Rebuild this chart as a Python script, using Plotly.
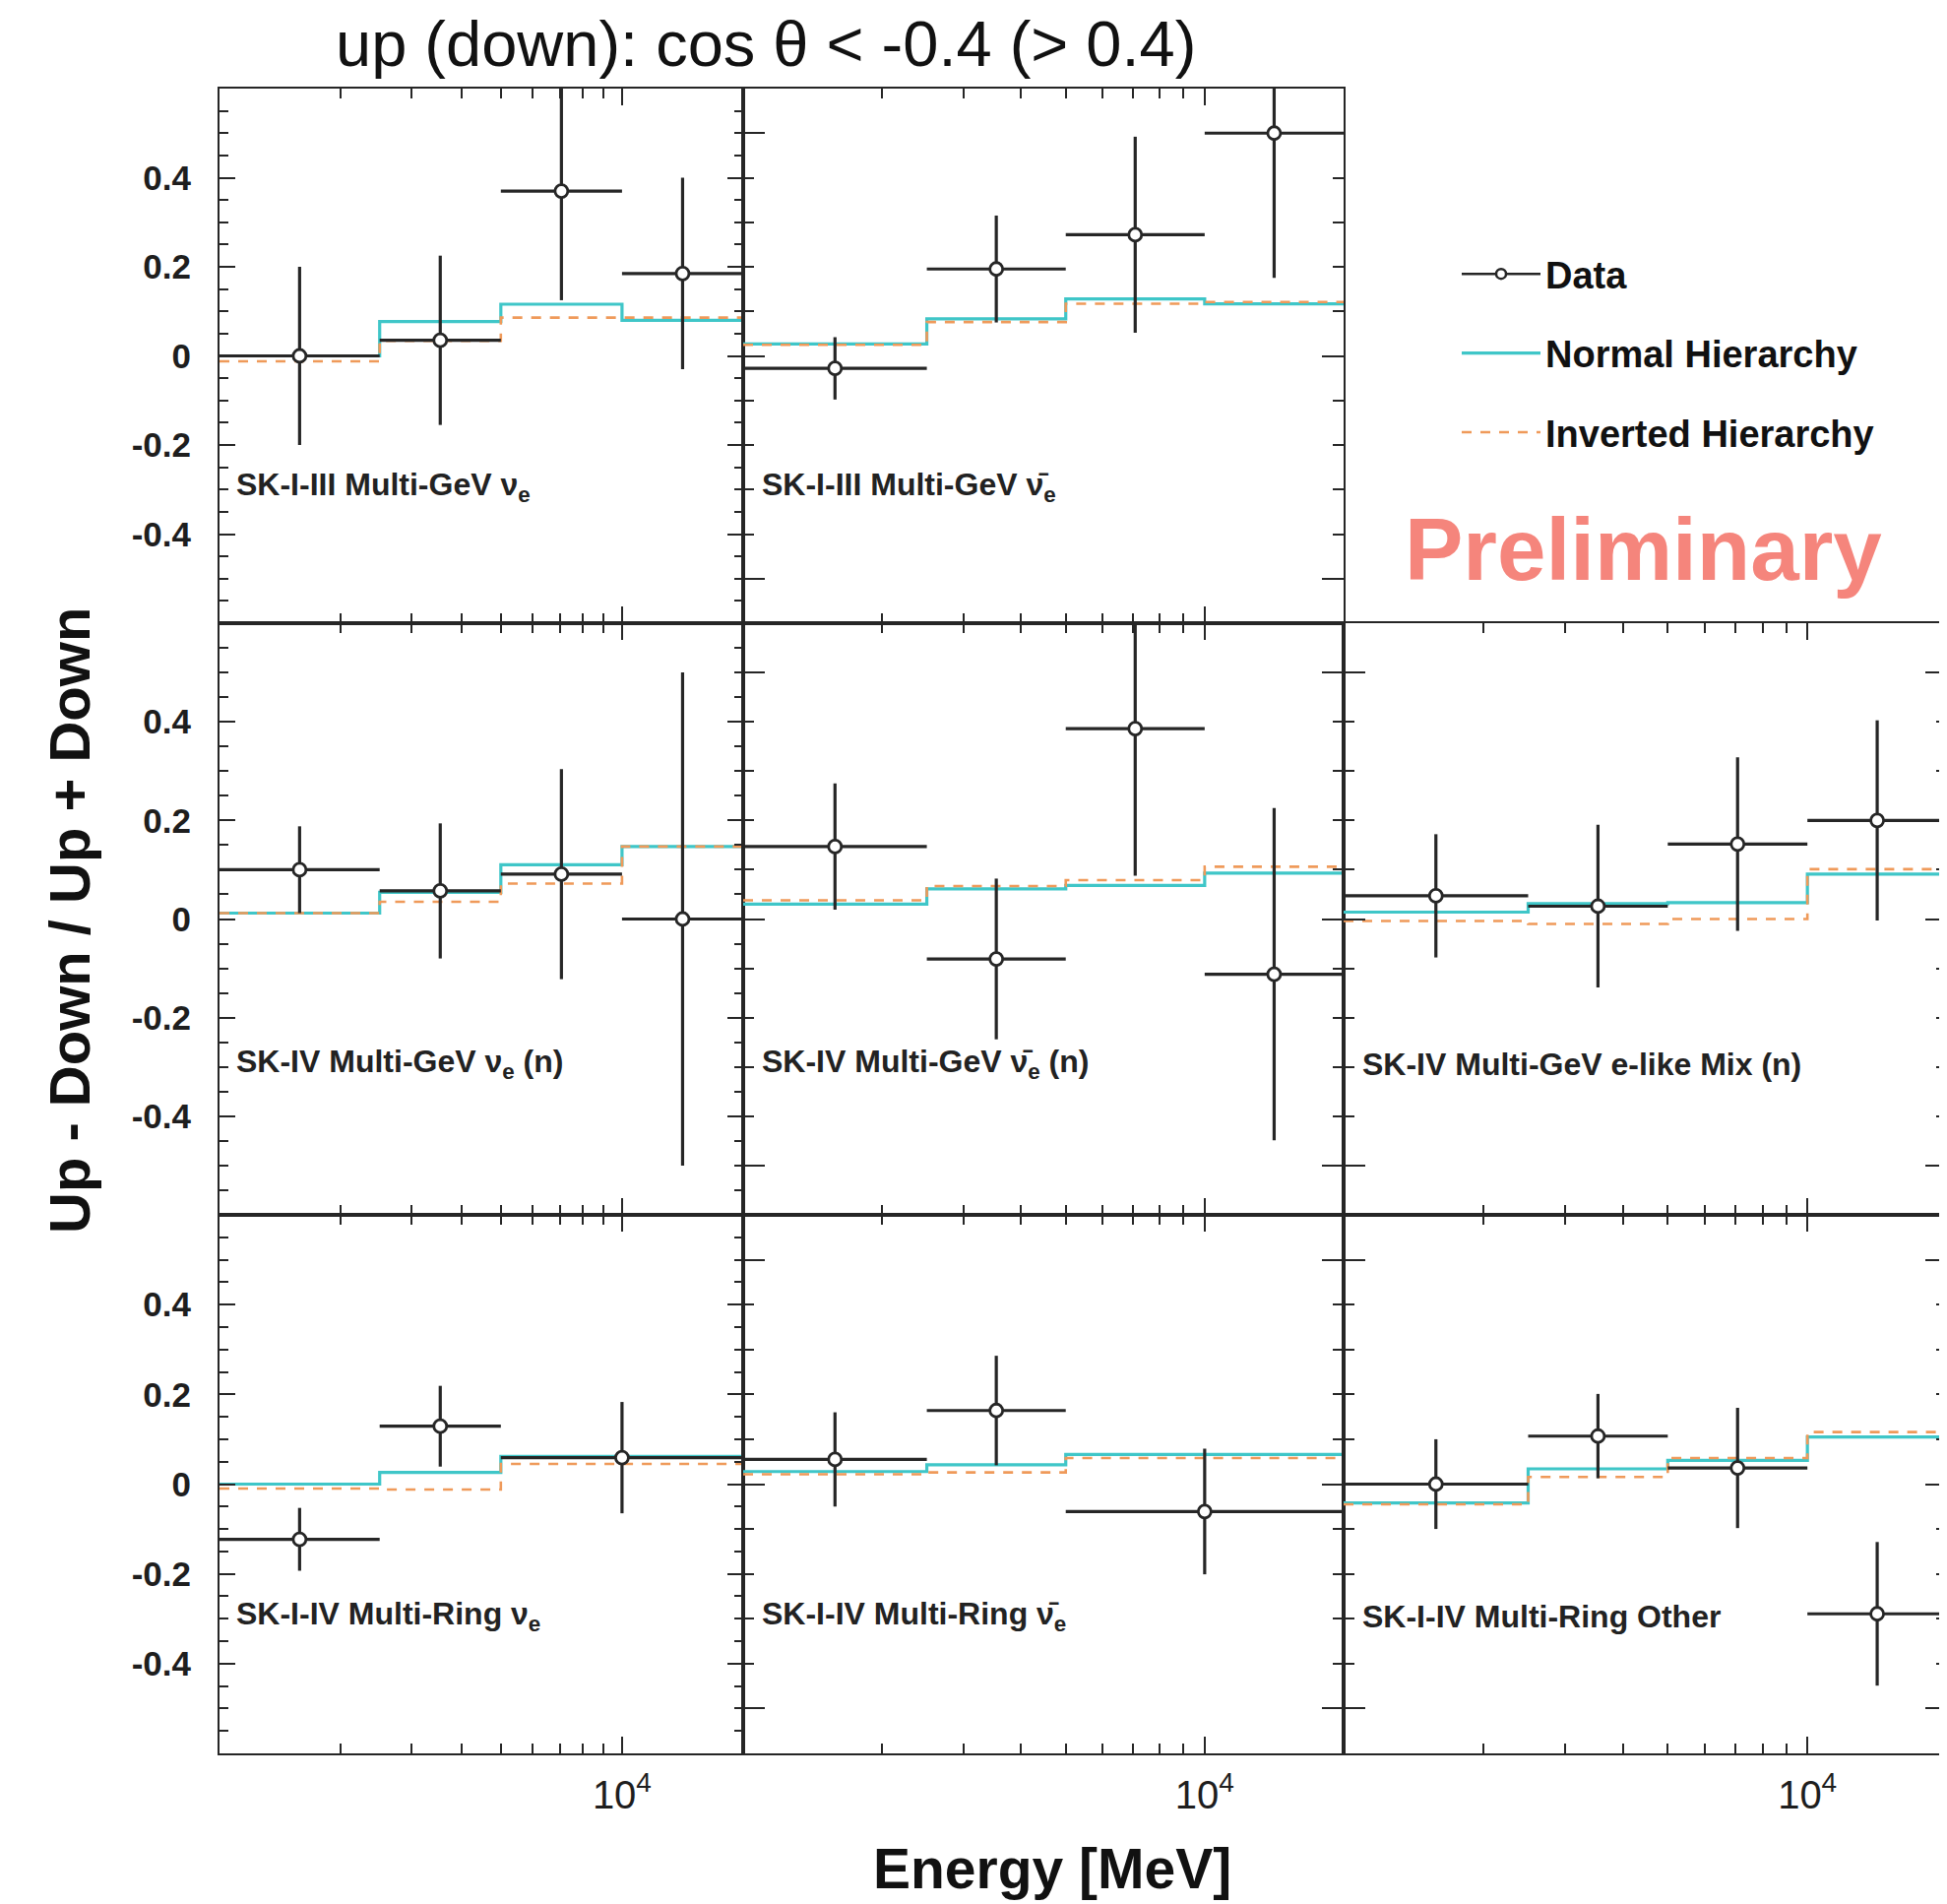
import math
import plotly.graph_objects as go

# ---------------- data ----------------
EDGES_4 = [1000, 2500, 5000, 10000, 20000]
EDGES_3 = [1000, 2500, 5000, 20000]

# SK-I-III Multi-GeV nu_e
P1_DATA = [0.0, 0.035, 0.37, 0.185]
P1_ERR = [0.2, 0.19, 0.245, 0.215]
P1_NH = [0.0, 0.077, 0.116, 0.080]
P1_IH = [-0.012, 0.034, 0.086, 0.086]

# SK-I-III Multi-GeV nu_e bar
P2_DATA = [-0.028, 0.195, 0.272, 0.50]
P2_ERR = [0.07, 0.12, 0.22, 0.325]
P2_NH = [0.027, 0.083, 0.128, 0.117]
P2_IH = [0.025, 0.076, 0.117, 0.121]

# SK-IV Multi-GeV nu_e (n)
P3_DATA = [0.10, 0.057, 0.091, 0.0]
P3_ERR = [0.088, 0.137, 0.213, 0.50]
P3_NH = [0.012, 0.054, 0.110, 0.147]
P3_IH = [0.012, 0.035, 0.072, 0.147]

# SK-IV Multi-GeV nu_e bar (n)
P4_DATA = [0.147, -0.081, 0.386, -0.112]
P4_ERR = [0.128, 0.163, 0.298, 0.337]
P4_NH = [0.030, 0.061, 0.068, 0.093]
P4_IH = [0.038, 0.067, 0.079, 0.106]

# SK-IV Multi-GeV e-like Mix (n)
P5_DATA = [0.047, 0.026, 0.152, 0.20]
P5_ERR = [0.125, 0.165, 0.176, 0.203]
P5_NH = [0.014, 0.031, 0.033, 0.091]
P5_IH = [-0.004, -0.010, 0.0, 0.101]

# SK-I-IV Multi-Ring nu_e
P6_DATA = [-0.123, 0.129, 0.059]
P6_ERR = [0.07, 0.09, 0.124]
P6_NH = [0.0, 0.026, 0.062]
P6_IH = [-0.010, -0.012, 0.045]

# SK-I-IV Multi-Ring nu_e bar
P7_DATA = [0.055, 0.164, -0.061]
P7_ERR = [0.105, 0.122, 0.14]
P7_NH = [0.028, 0.043, 0.066]
P7_IH = [0.022, 0.026, 0.058]

# SK-I-IV Multi-Ring Other
P8_DATA = [0.0, 0.107, 0.036, -0.289]
P8_ERR = [0.10, 0.094, 0.134, 0.16]
P8_NH = [-0.042, 0.034, 0.053, 0.105]
P8_IH = [-0.045, 0.016, 0.058, 0.116]

LABELS = [
    "SK-I-III Multi-GeV ν<sub>e</sub>",
    "SK-I-III Multi-GeV ν̄<sub>e</sub>",
    "SK-IV Multi-GeV ν<sub>e</sub> (n)",
    "SK-IV Multi-GeV ν̄<sub>e</sub> (n)",
    "SK-IV Multi-GeV e-like Mix (n)",
    "SK-I-IV Multi-Ring ν<sub>e</sub>",
    "SK-I-IV Multi-Ring ν̄<sub>e</sub>",
    "SK-I-IV Multi-Ring Other",
]

Y_TICKS_LEFT = [-0.4, -0.2, 0, 0.2, 0.4]
Y_TICKTEXT_LEFT = ["-0.4", "-0.2", "0", "0.2", "0.4"]
Y_TICKS_OTHER = [-0.5, 0, 0.5]
X_MAJOR = [10000]
X_MAJOR_TEXT = ["10<sup>4</sup>"]
X_MINOR = [2000, 3000, 4000, 5000, 6000, 7000, 8000, 9000]

# ---------------- layout geometry ----------------
W, H = 1978, 1934
COL_PX = [(215, 747), (747, 1357), (1357, 1970)]
ROW_PX = [(82, 625), (625, 1226), (1226, 1773)]

DARK = "#262626"
CYAN = "#3fc6c8"
ORANGE = "#ef9a5a"
FONT = "Liberation Sans, Arial, Helvetica, sans-serif"

panels = [
    (0, 0, EDGES_4, P1_DATA, P1_ERR, P1_NH, P1_IH),
    (0, 1, EDGES_4, P2_DATA, P2_ERR, P2_NH, P2_IH),
    (1, 0, EDGES_4, P3_DATA, P3_ERR, P3_NH, P3_IH),
    (1, 1, EDGES_4, P4_DATA, P4_ERR, P4_NH, P4_IH),
    (1, 2, EDGES_4, P5_DATA, P5_ERR, P5_NH, P5_IH),
    (2, 0, EDGES_3, P6_DATA, P6_ERR, P6_NH, P6_IH),
    (2, 1, EDGES_3, P7_DATA, P7_ERR, P7_NH, P7_IH),
    (2, 2, EDGES_4, P8_DATA, P8_ERR, P8_NH, P8_IH),
]

fig = go.Figure()

# legend proxy for data (line + open circle)
fig.add_trace(go.Scatter(
    x=[None], y=[None], mode="lines+markers", name="Data", legendgroup="data",
    line=dict(color=DARK, width=2.5),
    marker=dict(symbol="circle", size=10, color="white", line=dict(color=DARK, width=2.5)),
    xaxis="x", yaxis="y", hoverinfo="skip",
))

layout_axes = {}
annotations = []

for i, (r, c, edges, data, err, nh, ih) in enumerate(panels):
    n = i + 1
    xa = "x" if n == 1 else f"x{n}"
    ya = "y" if n == 1 else f"y{n}"
    centers = [math.sqrt(edges[k] * edges[k + 1]) for k in range(len(data))]
    ex_plus = [edges[k + 1] - centers[k] for k in range(len(data))]
    ex_minus = [centers[k] - edges[k] for k in range(len(data))]

    fig.add_trace(go.Scatter(
        x=edges, y=nh + [nh[-1]], mode="lines", name="Normal Hierarchy",
        legendgroup="nh", showlegend=(i == 0),
        line=dict(shape="hv", color=CYAN, width=3.2),
        xaxis=xa, yaxis=ya,
    ))
    fig.add_trace(go.Scatter(
        x=edges, y=ih + [ih[-1]], mode="lines", name="Inverted Hierarchy",
        legendgroup="ih", showlegend=(i == 0),
        line=dict(shape="hv", color=ORANGE, width=2.6, dash="10px,9px"),
        xaxis=xa, yaxis=ya,
    ))
    fig.add_trace(go.Scatter(
        x=centers, y=data, mode="markers", name="Data", legendgroup="data",
        showlegend=False,
        marker=dict(symbol="circle", size=13, color="white", line=dict(color=DARK, width=2.8)),
        error_x=dict(type="data", symmetric=False, array=ex_plus, arrayminus=ex_minus,
                     width=0, thickness=3.2, color=DARK),
        error_y=dict(type="data", array=err, width=0, thickness=3.2, color=DARK),
        xaxis=xa, yaxis=ya,
    ))

    x0, x1 = COL_PX[c]
    y0, y1 = ROW_PX[r]
    xdom = [x0 / W, x1 / W]
    ydom = [1 - y1 / H, 1 - y0 / H]

    xaxis = dict(
        domain=xdom, anchor=ya, type="log", range=[3, math.log10(20000)],
        showline=True, linecolor=DARK, linewidth=2, mirror="ticks",
        ticks="inside", ticklen=17, tickwidth=2.2, tickcolor=DARK,
        tickmode="array", tickvals=X_MAJOR, ticktext=X_MAJOR_TEXT,
        showticklabels=(r == 2),
        tickfont=dict(family=FONT, size=40, color="#1e1e1e"),
        ticklabelstandoff=6,
        minor=dict(tickmode="array", tickvals=X_MINOR, ticks="inside",
                   ticklen=10, tickwidth=2, tickcolor=DARK, showgrid=False),
        showgrid=False, zeroline=False, fixedrange=True,
    )
    if c == 0:
        yaxis = dict(
            tickmode="array", tickvals=Y_TICKS_LEFT, ticktext=Y_TICKTEXT_LEFT,
            showticklabels=True, ticklen=16,
            minor=dict(tickmode="linear", tick0=0, dtick=0.05, ticks="inside",
                       ticklen=9, tickwidth=2, tickcolor=DARK, showgrid=False),
        )
    else:
        yaxis = dict(
            tickmode="array", tickvals=Y_TICKS_OTHER, showticklabels=False, ticklen=22,
            minor=dict(tickmode="linear", tick0=0, dtick=0.1, ticks="inside",
                       ticklen=11, tickwidth=2, tickcolor=DARK, showgrid=False),
        )
    yaxis.update(
        domain=ydom, anchor=xa, range=[-0.6, 0.6],
        showline=True, linecolor=DARK, linewidth=2, mirror="ticks",
        ticks="inside", tickwidth=2.2, tickcolor=DARK,
        tickfont=dict(family=FONT, size=35, color="#1e1e1e", weight="bold"),
        ticklabelstandoff=20,
        showgrid=False, zeroline=False, fixedrange=True,
    )
    layout_axes["xaxis" if n == 1 else f"xaxis{n}"] = xaxis
    layout_axes["yaxis" if n == 1 else f"yaxis{n}"] = yaxis

    annotations.append(dict(
        text=LABELS[i], xref=f"{xa} domain", yref=f"{ya} domain",
        x=0.028, y=0.255, xanchor="left", yanchor="middle", showarrow=False,
        font=dict(family=FONT, size=32, color="#222222", weight="bold"),
    ))

# titles and decorations
annotations.append(dict(
    text="up (down): cos θ &lt; -0.4 (&gt; 0.4)", xref="paper", yref="paper",
    x=770 / W, y=1 - 36 / H, xanchor="center", yanchor="middle", showarrow=False,
    font=dict(family=FONT, size=65, color="#111111"),
))
annotations.append(dict(
    text="Up - Down / Up + Down", xref="paper", yref="paper",
    x=62 / W, y=1 - 927 / H, xanchor="center", yanchor="middle", showarrow=False,
    textangle=-90, font=dict(family=FONT, size=58, color="#111111", weight="bold"),
))
annotations.append(dict(
    text="Energy [MeV]", xref="paper", yref="paper",
    x=1061 / W, y=1 - 1890 / H, xanchor="center", yanchor="middle", showarrow=False,
    font=dict(family=FONT, size=57, color="#111111", weight="bold"),
))
annotations.append(dict(
    text="Preliminary", xref="paper", yref="paper",
    x=1661 / W, y=1 - 550 / H, xanchor="center", yanchor="middle", showarrow=False,
    font=dict(family=FONT, size=89, color="#f5857c", weight="bold"),
))

fig.update_layout(
    width=W, height=H, margin=dict(l=0, r=0, t=0, b=0),
    paper_bgcolor="white", plot_bgcolor="white",
    showlegend=True,
    legend=dict(
        x=1472 / W, y=1 - 239 / H, xanchor="left", yanchor="top",
        bgcolor="rgba(0,0,0,0)", borderwidth=0,
        font=dict(family=FONT, size=38, color="#111111", weight="bold"),
        tracegroupgap=28, itemwidth=80, traceorder="grouped",
    ),
    annotations=annotations,
    **layout_axes,
)

fig.write_html("out.html")
